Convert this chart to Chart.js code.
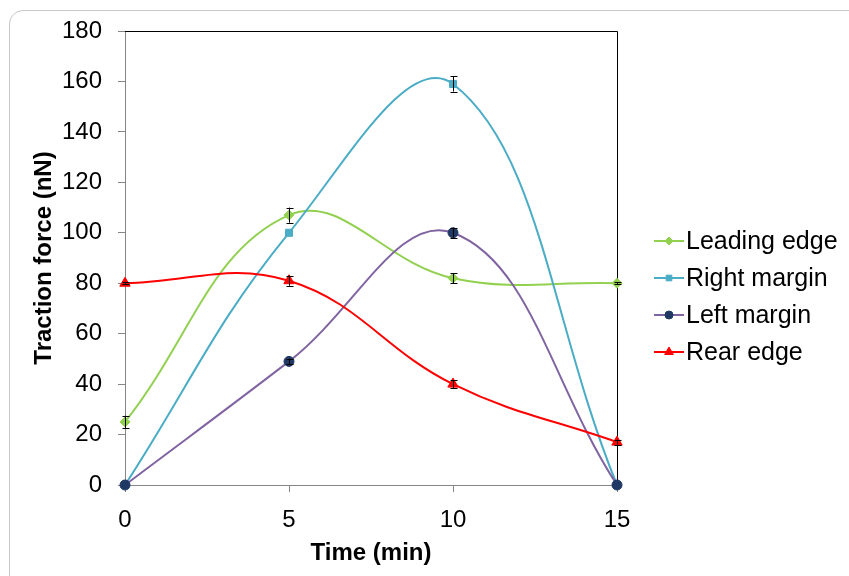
<!DOCTYPE html>
<html>
<head>
<meta charset="utf-8">
<script src="https://cdn.jsdelivr.net/npm/chart.js@4.4.0/dist/chart.umd.min.js"></script>
<style>
  html, body { margin: 0; padding: 0; background: #fff; }
  #wrap { position: relative; width: 849px; height: 576px; overflow: hidden; }
  #frame {
    position: absolute; left: 9px; top: 10px; width: 900px; height: 620px;
    border: 1px solid #c8c8c8; border-radius: 14px; box-sizing: border-box;
  }
  #plot { position: absolute; left: 0; top: 0; }
</style>
</head>
<body>
<div id="wrap">
  <div id="frame"></div>
  <canvas id="plot" width="849" height="576"></canvas>
</div>
<script>
// --- Data ---
const times = [0, 5, 10, 15];
const leadingEdge = [25, 107, 82, 80];
const leadingEdgeErr = [2.5, 3, 2, 0.5];
const rightMargin = [0, 100, 159, 0];
const rightMarginErr = [0, 0, 3, 0];
const leftMargin = [0, 49, 100, 0];
const leftMarginErr = [0, 1, 2, 0];
const rearEdge = [80, 81, 40, 17];
const rearEdgeErr = [0.5, 2, 1.5, 1];
const yTicks = [0, 20, 40, 60, 80, 100, 120, 140, 160, 180];
const xTicks = [0, 5, 10, 15];

const FONT = 'Arial, "Liberation Sans", sans-serif';

function toPoints(values) {
    return values.map((v, i) => ({ x: times[i], y: v }));
}

const seriesDefs = [
    { label: 'Leading edge', values: leadingEdge, errors: leadingEdgeErr, line: '#92D050', fill: '#92D050', style: 'rectRot', radius: 5 },
    { label: 'Right margin', values: rightMargin, errors: rightMarginErr, line: '#4BACC6', fill: '#4BACC6', style: 'rect', radius: 5 },
    { label: 'Left margin', values: leftMargin, errors: leftMarginErr, line: '#8064A2', fill: '#1F3864', style: 'circle', radius: 5 },
    { label: 'Rear edge', values: rearEdge, errors: rearEdgeErr, line: '#FF0000', fill: '#FF0000', style: 'triangle', radius: 6 }
];

// Error bars drawn through the chart's scales
const errorBarPlugin = {
    id: 'errorBars',
    afterDatasetsDraw(chart) {
        const ctx = chart.ctx;
        const yScale = chart.scales.y;
        ctx.save();
        ctx.strokeStyle = '#000';
        ctx.lineWidth = 1;
        chart.data.datasets.forEach((ds, di) => {
            const meta = chart.getDatasetMeta(di);
            ds.errors.forEach((e, i) => {
                if (!e) return;
                const pt = meta.data[i];
                const v = ds.data[i].y;
                const yTop = yScale.getPixelForValue(v + e);
                const yBot = yScale.getPixelForValue(v - e);
                const x = Math.round(pt.x) + 0.5;
                ctx.beginPath();
                ctx.moveTo(x, yTop); ctx.lineTo(x, yBot);
                ctx.moveTo(x - 3, Math.round(yTop) + 0.5); ctx.lineTo(x + 4, Math.round(yTop) + 0.5);
                ctx.moveTo(x - 3, Math.round(yBot) + 0.5); ctx.lineTo(x + 4, Math.round(yBot) + 0.5);
                ctx.stroke();
            });
        });
        ctx.restore();
    }
};

// Top/right frame of the plot area plus the Excel-style legend
const frameLegendPlugin = {
    id: 'frameLegend',
    beforeDatasetsDraw(chart) {
        const { ctx, chartArea: a } = chart;
        ctx.save();
        ctx.strokeStyle = '#000';
        ctx.lineWidth = 1;
        ctx.beginPath();
        ctx.moveTo(a.left, Math.round(a.top) + 0.5);
        ctx.lineTo(Math.round(a.right) + 0.5, Math.round(a.top) + 0.5);
        ctx.lineTo(Math.round(a.right) + 0.5, a.bottom);
        ctx.stroke();
        ctx.restore();
    },
    afterDraw(chart) {
        const ctx = chart.ctx;
        const x0 = 654, lineLen = 30, rowY = 241, rowGap = 37;
        ctx.save();
        chart.data.datasets.forEach((ds, i) => {
            const y = rowY + i * rowGap;
            ctx.strokeStyle = ds.borderColor;
            ctx.lineWidth = 2;
            ctx.beginPath();
            ctx.moveTo(x0, y); ctx.lineTo(x0 + lineLen, y);
            ctx.stroke();
            ctx.fillStyle = ds.pointBackgroundColor;
            ctx.strokeStyle = ds.pointBorderColor;
            ctx.lineWidth = 1;
            Chart.helpers.drawPoint(ctx, {
                pointStyle: ds.pointStyle,
                radius: ds.pointRadius - 1,
                borderWidth: 1,
                rotation: 0
            }, x0 + lineLen / 2, y);
            ctx.fillStyle = '#000';
            ctx.font = '25px ' + FONT;
            ctx.textAlign = 'left';
            ctx.textBaseline = 'middle';
            ctx.fillText(ds.label, x0 + lineLen + 2, y + 1);
        });
        ctx.restore();
    }
};

// Later series are drawn on top, as in the reference
const datasets = seriesDefs.map((s, i) => ({
    label: s.label,
    data: toPoints(s.values),
    errors: s.errors,
    order: seriesDefs.length - i,
    borderColor: s.line,
    borderWidth: 2,
    tension: 0.4,
    fill: false,
    clip: false,
    pointStyle: s.style,
    pointRadius: s.radius,
    pointBackgroundColor: s.fill,
    pointBorderColor: s.fill,
    pointBorderWidth: 1
}));

const chart = new Chart(document.getElementById('plot').getContext('2d'), {
    type: 'line',
    data: { datasets },
    options: {
        responsive: false,
        animation: false,
        layout: { padding: { top: 31, right: 232, bottom: 0, left: 0 } },
        plugins: {
            legend: { display: false },
            tooltip: { enabled: false }
        },
        scales: {
            x: {
                type: 'linear',
                min: 0, max: 15,
                afterBuildTicks: scale => { scale.ticks = xTicks.map(v => ({ value: v })); },
                afterFit: scale => { scale.height = 91; },
                ticks: { color: '#000', font: { family: FONT, size: 24 }, padding: 14, maxRotation: 0 },
                grid: { drawOnChartArea: false, drawTicks: true, tickLength: 7, color: '#868686' },
                border: { color: '#868686', width: 1 },
                title: { display: true, text: 'Time (min)', color: '#000', font: { family: FONT, size: 24, weight: 'bold' }, padding: { top: 0, bottom: 8 } }
            },
            y: {
                type: 'linear',
                min: 0, max: 180,
                afterBuildTicks: scale => { scale.ticks = yTicks.map(v => ({ value: v })); },
                afterFit: scale => { scale.width = 125; },
                ticks: { color: '#000', font: { family: FONT, size: 24 }, padding: 16 },
                grid: { drawOnChartArea: false, drawTicks: true, tickLength: 7, color: '#868686' },
                border: { color: '#868686', width: 1 },
                title: { display: true, text: 'Traction force (nN)', color: '#000', font: { family: FONT, size: 24, weight: 'bold' }, padding: { top: 30, bottom: 0 } }
            }
        }
    },
    plugins: [errorBarPlugin, frameLegendPlugin]
});
</script>
</body>
</html>
